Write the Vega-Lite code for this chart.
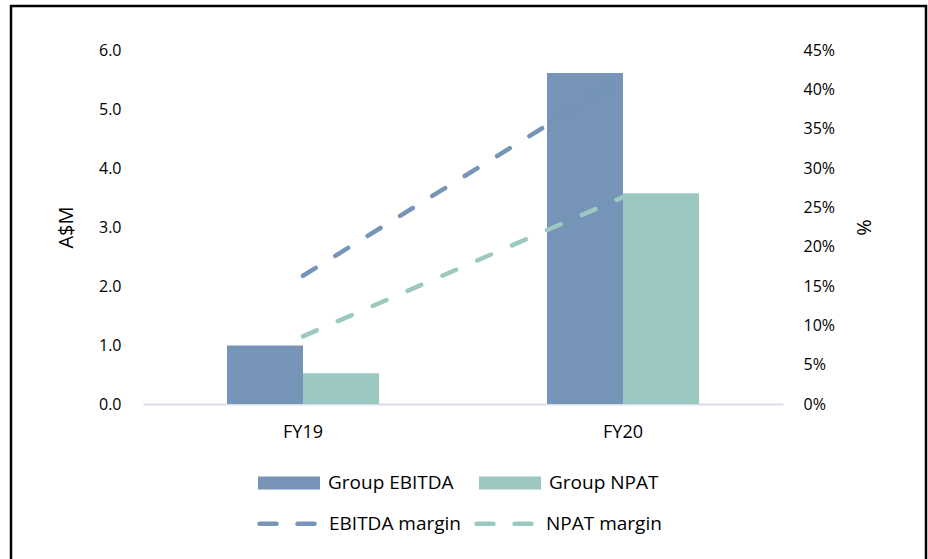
{
  "$schema": "https://vega.github.io/schema/vega-lite/v6.json",
  "width": 915,
  "height": 556,
  "autosize": {"type": "none"},
  "padding": {"left": 11, "top": 6, "right": 2, "bottom": -3},
  "background": "#ffffff",
  "config": {
    "view": {"stroke": "#000000", "strokeWidth": 2.5},
    "font": "Open Sans",
    "axis": {
      "grid": false,
      "ticks": false,
      "domain": false,
      "labelColor": "#000000",
      "labelFontSize": 16,
      "titleColor": "#000000",
      "titleFontWeight": "normal",
      "titleFontSize": 20
    },
    "legend": {
      "labelColor": "#000000",
      "labelFontSize": 19,
      "padding": 0,
      "title": null
    }
  },
  "datasets": {
    "bars": [
      {"year": "FY19", "series": "Group EBITDA", "value": 0.99},
      {"year": "FY19", "series": "Group NPAT", "value": 0.52},
      {"year": "FY20", "series": "Group EBITDA", "value": 5.61},
      {"year": "FY20", "series": "Group NPAT", "value": 3.57}
    ],
    "margins": [
      {"year": "FY19", "series": "EBITDA margin", "margin": 0.163},
      {"year": "FY20", "series": "EBITDA margin", "margin": 0.414},
      {"year": "FY19", "series": "NPAT margin", "margin": 0.086},
      {"year": "FY20", "series": "NPAT margin", "margin": 0.263}
    ]
  },
  "layer": [
    {
      "data": {"name": "bars"},
      "mark": {"type": "bar"},
      "encoding": {
        "x": {
          "field": "year",
          "type": "nominal",
          "scale": {"domain": ["FY19", "FY20"], "range": [132, 772], "paddingInner": 0.05, "paddingOuter": 0.025},
          "axis": {
            "orient": "bottom",
            "offset": -158,
            "domain": true,
            "domainColor": "#D9DFEA",
            "domainWidth": 2,
            "labelPadding": 19,
            "labelFontSize": 18,
            "labelAngle": 0,
            "title": null
          }
        },
        "xOffset": {
          "field": "series",
          "type": "nominal",
          "scale": {"domain": ["Group EBITDA", "Group NPAT"], "paddingInner": 0, "paddingOuter": 1}
        },
        "y": {
          "field": "value",
          "type": "quantitative",
          "scale": {"domain": [0, 6], "range": [398, 44], "nice": false},
          "axis": {
            "orient": "left",
            "offset": -112,
            "values": [0, 1, 2, 3, 4, 5, 6],
            "format": ".1f",
            "labelPadding": 2,
            "title": "A$M",
            "titlePadding": 22
          }
        },
        "fill": {
          "field": "series",
          "type": "nominal",
          "scale": {"domain": ["Group EBITDA", "Group NPAT"], "range": ["#7594B7", "#9CC8C2"]},
          "legend": {
            "orient": "none",
            "legendX": 247,
            "legendY": 446,
            "direction": "horizontal",
            "symbolType": "M-1,-0.21H1V0.21H-1Z",
            "symbolSize": 3844,
            "symbolStrokeWidth": 0,
            "labelOffset": 8,
            "columnPadding": 25
          }
        }
      }
    },
    {
      "data": {"name": "margins"},
      "mark": {
        "type": "line",
        "strokeWidth": 4.5,
        "strokeCap": "round",
        "strokeDash": [15, 23]
      },
      "encoding": {
        "x": {
          "field": "year",
          "type": "nominal",
          "scale": {"domain": ["FY19", "FY20"], "range": [132, 772], "paddingInner": 0.05, "paddingOuter": 0.025},
          "axis": {
            "orient": "bottom",
            "offset": -158,
            "domain": true,
            "domainColor": "#D9DFEA",
            "domainWidth": 2,
            "labelPadding": 19,
            "labelFontSize": 18,
            "labelAngle": 0,
            "title": null
          }
        },
        "y": {
          "field": "margin",
          "type": "quantitative",
          "scale": {"domain": [0, 0.45], "range": [398, 44], "nice": false, "zero": true},
          "axis": {
            "orient": "right",
            "offset": -125,
            "values": [0, 0.05, 0.1, 0.15, 0.2, 0.25, 0.3, 0.35, 0.4, 0.45],
            "format": ".0%",
            "labelPadding": 2,
            "title": "%",
            "titlePadding": 18
          }
        },
        "stroke": {
          "field": "series",
          "type": "nominal",
          "scale": {"domain": ["EBITDA margin", "NPAT margin"], "range": ["#7594B7", "#9CC8C2"]},
          "legend": {
            "orient": "none",
            "legendX": 246,
            "legendY": 485,
            "direction": "horizontal",
            "symbolType": "stroke",
            "symbolSize": 3600,
            "symbolStrokeWidth": 4.5,
            "symbolDash": [17, 21],
            "labelOffset": 7,
            "columnPadding": 5,
            "encode": {"symbols": {"update": {"strokeCap": {"value": "round"}}}}
          }
        }
      }
    }
  ],
  "resolve": {"scale": {"y": "independent"}}
}
